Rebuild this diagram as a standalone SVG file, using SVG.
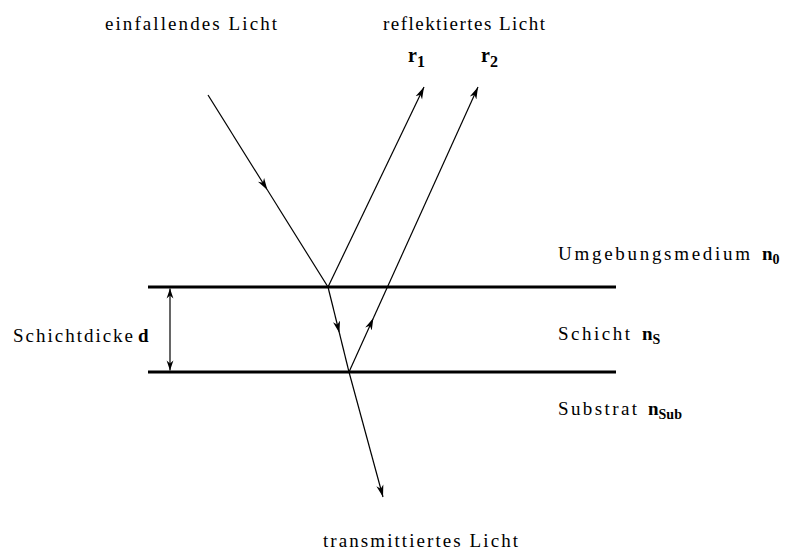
<svg xmlns="http://www.w3.org/2000/svg" width="785" height="550" viewBox="0 0 785 550">
<defs>
<style>
.t{font-family:"Liberation Serif","Times New Roman",serif;font-size:19px;fill:#000}
.b{font-family:"Liberation Serif","Times New Roman",serif;font-weight:bold;fill:#000}
.ray{stroke:#000;stroke-width:1.2;fill:none}
.layer{stroke:#000;stroke-width:3;fill:none}
</style>
<marker id="ah" viewBox="-12 -5 14 10" markerWidth="14" markerHeight="10" refX="0" refY="0" orient="auto" markerUnits="userSpaceOnUse">
<path d="M0,0 L-12,-3.6 L-8.5,0 L-12,3.6 Z" fill="#000"/>
</marker>
<marker id="ahs" viewBox="-12 -5 14 10" markerWidth="14" markerHeight="10" refX="0" refY="0" orient="auto-start-reverse" markerUnits="userSpaceOnUse">
<path d="M0,0 L-10,-3.4 L-7,0 L-10,3.4 Z" fill="#000"/>
</marker>
</defs>
<rect width="785" height="550" fill="#fff"/>

<g id="layers">
<line class="layer" x1="148" y1="287" x2="616" y2="287"/>
<line class="layer" x1="148" y1="372" x2="616" y2="372"/>
</g>

<g id="connectors">
<line class="ray" x1="208" y1="95" x2="267.4" y2="190" marker-end="url(#ah)"/>
<line class="ray" x1="267.4" y1="190" x2="328" y2="287"/>
<line class="ray" x1="328" y1="287" x2="339.4" y2="333" marker-end="url(#ah)"/>
<line class="ray" x1="339.4" y1="333" x2="349" y2="372"/>
<line class="ray" x1="328" y1="287" x2="424" y2="87" marker-end="url(#ah)"/>
<line class="ray" x1="349" y1="372" x2="373.4" y2="318" marker-end="url(#ah)"/>
<line class="ray" x1="373.4" y1="318" x2="478" y2="87" marker-end="url(#ah)"/>
<line class="ray" x1="349" y1="372" x2="383" y2="497" marker-end="url(#ah)"/>
<line class="ray" x1="170" y1="288.5" x2="170" y2="370.5" marker-start="url(#ahs)" marker-end="url(#ahs)"/>
</g>

<g id="label-einfallend"><text class="t" x="105" y="30" textLength="172" lengthAdjust="spacing">einfallendes Licht</text></g>
<g id="label-reflektiert"><text class="t" x="383" y="30" textLength="162" lengthAdjust="spacing">reflektiertes Licht</text></g>
<g id="label-r1"><text class="b" x="408" y="62" font-size="20">r<tspan font-size="16" dy="5">1</tspan></text></g>
<g id="label-r2"><text class="b" x="481" y="62" font-size="20">r<tspan font-size="16" dy="5">2</tspan></text></g>
<g id="label-umgebung"><text class="t" x="558" y="260" textLength="192" lengthAdjust="spacing">Umgebungsmedium</text><text class="b" x="762" y="260" font-size="19">n<tspan font-size="14" dy="4">0</tspan></text></g>
<g id="label-schicht"><text class="t" x="558" y="340" textLength="72" lengthAdjust="spacing">Schicht</text><text class="b" x="642" y="340" font-size="19">n<tspan font-size="14" dy="4">S</tspan></text></g>
<g id="label-substrat"><text class="t" x="558" y="415" textLength="79" lengthAdjust="spacing">Substrat</text><text class="b" x="648" y="415" font-size="19">n<tspan font-size="14" dy="4">Sub</tspan></text></g>
<g id="label-dicke"><text class="t" x="13" y="342" textLength="120" lengthAdjust="spacing">Schichtdicke</text><text class="b" x="138" y="342" font-size="19">d</text></g>
<g id="label-transmittiert"><text class="t" x="323" y="547" textLength="195" lengthAdjust="spacing">transmittiertes Licht</text></g>
</svg>
